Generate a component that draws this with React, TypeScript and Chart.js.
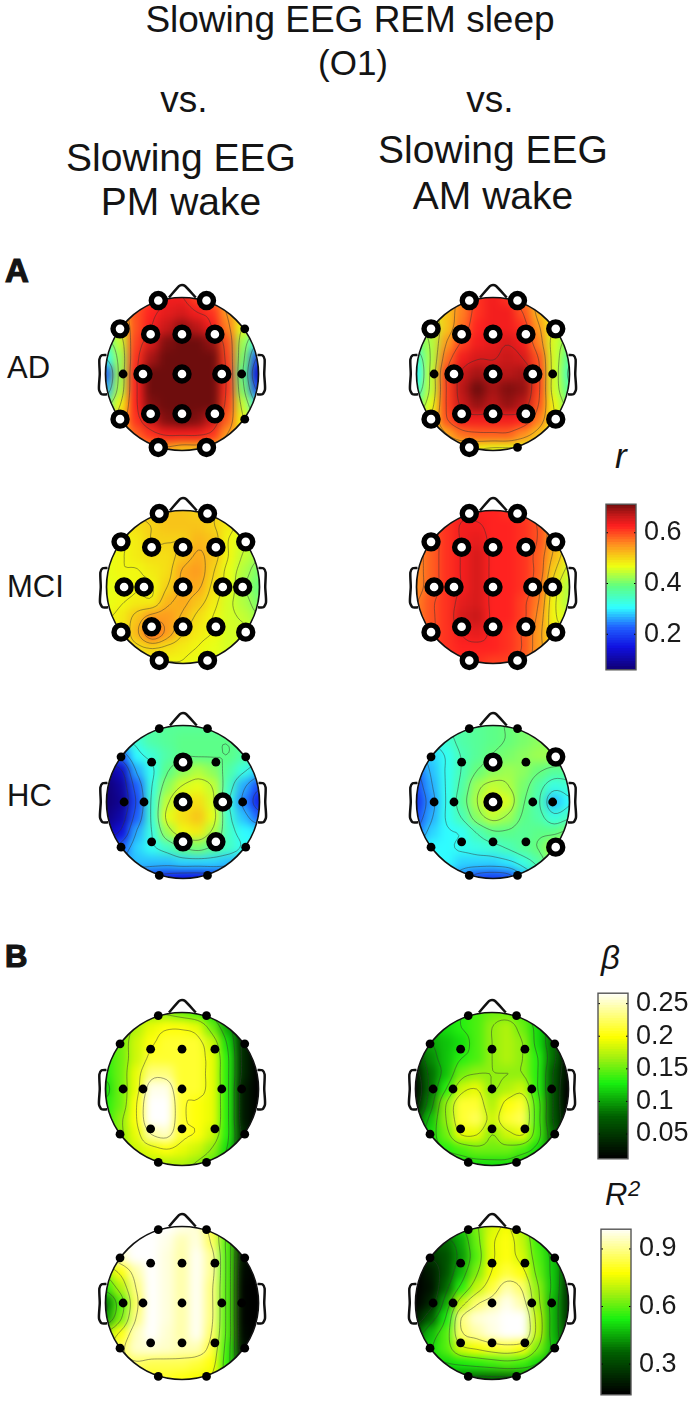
import React, { useEffect, useRef } from "react";
import { Chart, registerables } from "chart.js";
Chart.register(...registerables);

const FONT = "'Liberation Sans', Arial, sans-serif";
const RADIUS_PX = 76.5;
const CANVAS = 210;

const ELECTRODES: Record<string, [number, number]> = {
  Fp1: [-0.31, 0.96], Fp2: [0.32, 0.96],
  F7: [-0.81, 0.59], F3: [-0.41, 0.52], Fz: [0, 0.52], F4: [0.43, 0.52], F8: [0.82, 0.59],
  T3: [-0.77, 0], C3: [-0.51, 0], Cz: [0, 0], C4: [0.52, 0], T4: [0.78, 0],
  T5: [-0.81, -0.59], P3: [-0.41, -0.52], Pz: [0, -0.52], P4: [0.43, -0.52], T6: [0.82, -0.59],
  O1: [-0.31, -0.96], O2: [0.32, -0.96],
};
const ALL = Object.keys(ELECTRODES);
const except = (...n: string[]) => ALL.filter((e) => !n.includes(e));

const NOSE = [[-0.17, 1.0], [-0.04, 1.15], [0, 1.165], [0.04, 1.15], [0.18, 1.0]];
const EAR_L = [[-0.987, 0.25], [-1.05, 0.245], [-1.08, 0.19], [-1.075, 0], [-1.085, -0.2], [-1.05, -0.265], [-0.98, -0.265]];
const EAR_R = EAR_L.map(([x, y]) => [-x, y]);

const GRID_X = [-1, -0.8, -0.6, -0.4, -0.2, 0, 0.2, 0.4, 0.6, 0.8, 1];
const GRID_Y = [1, 0.8, 0.6, 0.4, 0.2, 0, -0.2, -0.4, -0.6, -0.8, -1];

const AD_PM = [
  [50, 50, 56, 60, 63, 63, 60, 56, 52, 50, 50],
  [48, 51, 59, 62, 64, 65, 63, 61, 54, 50, 45],
  [44, 48, 59, 63, 66, 69, 67, 63, 56, 46, 40],
  [36, 44, 60, 65, 70, 71, 71, 69, 59, 42, 30],
  [30, 42, 61, 68, 71, 71, 71, 71, 60, 40, 20],
  [22, 42, 62, 71, 71, 71, 71, 71, 61, 38, 14],
  [26, 43, 62, 71, 71, 71, 71, 71, 61, 40, 20],
  [36, 47, 62, 70, 71, 71, 71, 71, 60, 44, 30],
  [42, 51, 61, 66, 70, 71, 70, 66, 58, 47, 38],
  [46, 50, 58, 61, 63, 63, 63, 61, 54, 48, 44],
  [46, 48, 50, 53, 53, 51, 51, 50, 48, 46, 44],
];
const AD_AM = [
  [50, 50, 52, 55, 61, 63, 61, 56, 52, 50, 50],
  [46, 47, 51, 56, 61, 63, 63, 59, 52, 48, 46],
  [42, 44, 51, 57, 62, 63, 63, 61, 54, 47, 42],
  [38, 43, 54, 60, 63, 64, 65, 63, 56, 45, 40],
  [33, 43, 57, 63, 65, 65, 66, 65, 59, 45, 37],
  [30, 44, 60, 66, 68, 67, 67, 68, 60, 45, 35],
  [33, 44, 60, 67, 71, 68, 70, 69, 60, 45, 37],
  [38, 46, 60, 66, 69, 67, 69, 67, 59, 47, 40],
  [44, 49, 59, 63, 63, 63, 63, 62, 56, 48, 44],
  [46, 48, 53, 57, 58, 58, 58, 55, 51, 47, 46],
  [48, 48, 48, 48, 47, 46, 46, 46, 46, 46, 46],
];
const MCI_PM = [
  [48, 49, 50, 51, 51, 51, 50, 50, 48, 47, 46],
  [47, 48, 49, 50, 51, 51, 51, 50, 48, 46, 45],
  [46, 47, 48, 50, 50, 50, 52, 51, 47, 45, 43],
  [46, 47, 48, 49, 49, 51, 53, 51, 47, 44, 42],
  [46, 47, 47, 48, 49, 53, 54, 50, 46, 43, 40],
  [46, 46, 47, 47, 50, 53, 53, 49, 46, 42, 39],
  [46, 47, 48, 48, 52, 53, 51, 48, 45, 43, 40],
  [47, 48, 51, 54, 54, 52, 49, 47, 45, 44, 42],
  [47, 48, 52, 58, 54, 50, 48, 47, 45, 45, 44],
  [47, 48, 49, 50, 49, 48, 47, 46, 45, 45, 45],
  [47, 47, 47, 47, 47, 47, 46, 46, 46, 46, 46],
];
const MCI_AM = [
  [58, 60, 61, 62, 62, 62, 61, 60, 58, 55, 53],
  [56, 59, 61, 63, 63, 62, 62, 61, 59, 54, 50],
  [55, 58, 61, 63, 64, 62, 62, 61, 59, 53, 49],
  [55, 58, 61, 63, 65, 62, 62, 61, 58, 52, 47],
  [55, 58, 61, 63, 65, 62, 62, 61, 58, 50, 45],
  [55, 58, 61, 63, 65, 62, 62, 61, 57, 48, 43],
  [56, 59, 61, 64, 65, 62, 62, 60, 56, 47, 43],
  [56, 59, 61, 65, 66, 62, 62, 60, 55, 47, 45],
  [57, 59, 61, 63, 64, 62, 61, 59, 54, 48, 47],
  [58, 60, 61, 62, 62, 62, 61, 59, 54, 50, 49],
  [58, 59, 60, 61, 61, 60, 60, 58, 54, 51, 50],
];
const HC_PM = [
  [35, 35, 35, 36, 37, 37, 37, 37, 37, 36, 36],
  [30, 31, 33, 36, 37, 38, 38, 38, 38, 37, 37],
  [16, 22, 30, 33, 36, 38, 38, 38, 38, 36, 34],
  [8, 12, 26, 31, 38, 41, 43, 41, 36, 32, 28],
  [6, 9, 22, 32, 41, 45, 46, 44, 34, 26, 20],
  [6, 8, 20, 33, 44, 48, 49, 45, 32, 24, 16],
  [7, 10, 22, 33, 46, 49, 51, 46, 33, 27, 22],
  [10, 14, 26, 32, 42, 47, 48, 43, 34, 30, 29],
  [16, 22, 28, 31, 34, 38, 40, 37, 34, 31, 30],
  [22, 25, 27, 27, 27, 28, 28, 28, 27, 27, 27],
  [22, 21, 20, 18, 16, 15, 15, 16, 18, 20, 22],
];
const HC_AM = [
  [34, 34, 35, 36, 37, 38, 39, 40, 40, 40, 40],
  [30, 31, 33, 36, 37, 38, 39, 40, 41, 41, 42],
  [26, 28, 31, 35, 37, 39, 40, 41, 42, 42, 42],
  [22, 27, 31, 35, 39, 41, 42, 41, 39, 37, 37],
  [20, 26, 31, 36, 42, 44, 43, 40, 36, 32, 33],
  [18, 25, 31, 37, 43, 47, 45, 39, 35, 27, 30],
  [20, 26, 31, 35, 41, 44, 42, 38, 36, 32, 34],
  [23, 28, 30, 31, 35, 38, 38, 37, 38, 38, 40],
  [28, 30, 30, 31, 32, 33, 35, 37, 39, 43, 44],
  [30, 30, 30, 28, 28, 28, 29, 32, 36, 42, 44],
  [30, 28, 26, 24, 20, 19, 20, 26, 32, 38, 42],
];
const BETA_PM = [
  [14, 15, 16, 16, 16, 15, 14, 12, 8, 3, 1],
  [14, 15, 17, 19, 20, 20, 19, 15, 10, 4, 1],
  [14, 15, 18, 20, 21, 21, 21, 18, 12, 4, 1],
  [13, 15, 18, 21, 21, 21, 21, 19, 13, 4, 1],
  [13, 15, 19, 23, 23, 21, 21, 19, 13, 4, 1],
  [12, 15, 19, 26, 26, 21, 21, 19, 13, 3, 1],
  [13, 15, 20, 28, 28, 21, 20, 19, 13, 3, 1],
  [13, 16, 20, 28, 28, 21, 20, 19, 13, 3, 1],
  [14, 16, 19, 24, 25, 21, 20, 18, 13, 4, 1],
  [15, 16, 18, 19, 20, 19, 18, 16, 12, 4, 2],
  [15, 15, 16, 17, 17, 17, 16, 14, 10, 5, 3],
];
const BETA_AM = [
  [11, 11, 12, 13, 14, 15, 15, 14, 11, 8, 4],
  [10, 11, 12, 13, 14, 16, 17, 15, 12, 8, 4],
  [9, 10, 11, 12, 14, 16, 17, 16, 12, 8, 3],
  [5, 9, 11, 13, 14, 16, 17, 16, 13, 8, 2],
  [3, 8, 11, 15, 16, 16, 16, 16, 13, 7, 2],
  [2, 8, 13, 18, 19, 16, 17, 18, 13, 7, 1],
  [3, 9, 16, 21, 21, 17, 20, 21, 14, 7, 1],
  [6, 11, 16, 21, 22, 18, 21, 22, 14, 7, 2],
  [9, 12, 15, 19, 19, 16, 18, 19, 14, 8, 3],
  [11, 12, 13, 14, 15, 15, 15, 14, 12, 9, 5],
  [11, 11, 12, 12, 12, 12, 12, 11, 11, 10, 7],
];
const R2_PM = [
  [100, 100, 100, 100, 100, 98, 96, 82, 62, 30, 14],
  [100, 100, 100, 100, 98, 93, 97, 85, 58, 22, 14],
  [86, 95, 100, 100, 97, 92, 99, 90, 58, 18, 14],
  [66, 78, 92, 100, 97, 92, 99, 90, 58, 16, 14],
  [55, 68, 88, 100, 97, 92, 99, 88, 58, 15, 14],
  [38, 58, 85, 100, 97, 92, 99, 88, 58, 15, 14],
  [42, 62, 88, 100, 97, 92, 99, 88, 58, 15, 14],
  [65, 78, 94, 100, 96, 92, 99, 86, 58, 16, 14],
  [72, 85, 95, 96, 95, 93, 93, 82, 56, 18, 14],
  [76, 82, 86, 84, 84, 84, 82, 78, 55, 25, 16],
  [76, 78, 80, 80, 80, 78, 76, 74, 58, 35, 20],
];
const R2_AM = [
  [45, 45, 46, 50, 62, 72, 76, 68, 54, 44, 32],
  [32, 34, 36, 44, 60, 74, 78, 70, 56, 46, 32],
  [24, 27, 32, 42, 58, 74, 78, 72, 58, 48, 30],
  [14, 20, 32, 46, 62, 76, 82, 78, 60, 48, 28],
  [14, 18, 36, 54, 70, 82, 92, 86, 64, 48, 26],
  [14, 22, 44, 70, 86, 92, 98, 92, 66, 46, 26],
  [20, 34, 52, 88, 96, 98, 100, 100, 70, 46, 26],
  [34, 46, 58, 86, 92, 97, 100, 100, 70, 46, 28],
  [44, 50, 58, 72, 76, 80, 82, 78, 62, 48, 32],
  [46, 48, 50, 52, 54, 56, 58, 56, 50, 42, 34],
  [44, 44, 42, 38, 36, 36, 36, 38, 40, 40, 36],
];

type Stop = [number, number, number, number];
const JET: Stop[] = [
  [0, 16, 0, 120], [0.13, 16, 16, 224], [0.25, 32, 96, 255], [0.37, 48, 255, 255],
  [0.5, 96, 255, 128], [0.62, 240, 255, 16], [0.75, 255, 144, 32], [0.86, 255, 32, 32],
  [0.93, 192, 24, 24], [1, 105, 12, 12],
];
const KGYW: Stop[] = [
  [0, 0, 0, 0], [0.25, 0, 96, 0], [0.45, 24, 240, 16], [0.6, 160, 240, 16],
  [0.73, 255, 255, 0], [0.88, 255, 255, 144], [1, 255, 255, 255],
];
function colorAt(stops: Stop[], t: number) {
  const u = Math.max(0, Math.min(1, t));
  for (let i = 1; i < stops.length; i++) {
    if (u <= stops[i][0]) {
      const a = stops[i - 1], b = stops[i];
      const f = (u - a[0]) / (b[0] - a[0]);
      const m = (k: number) => Math.round(a[k] + (b[k] - a[k]) * f);
      return `rgb(${m(1)},${m(2)},${m(3)})`;
    }
  }
  return "rgb(255,255,255)";
}

// Catmull-Rom resampling of the read grid, used only to trace the thin contour lines.
function cr(p0: number, p1: number, p2: number, p3: number, t: number) {
  return 0.5 * (2 * p1 + (p2 - p0) * t + (2 * p0 - 5 * p1 + 4 * p2 - p3) * t * t + (3 * p1 - p0 - 3 * p2 + p3) * t * t * t);
}
function fine(grid: number[][], k: number) {
  const n = grid.length;
  const at = (r: number, c: number) => grid[Math.max(0, Math.min(n - 1, r))][Math.max(0, Math.min(n - 1, c))];
  const m = (n - 1) * k + 1;
  const out: number[][] = [];
  for (let i = 0; i < m; i++) {
    const row: number[] = [];
    const ri = Math.floor(i / k), tr = i / k - ri;
    for (let j = 0; j < m; j++) {
      const ci = Math.floor(j / k), tc = j / k - ci;
      const c = [-1, 0, 1, 2].map((d) => cr(at(ri + d, ci - 1), at(ri + d, ci), at(ri + d, ci + 1), at(ri + d, ci + 2), tc));
      row.push(cr(c[0], c[1], c[2], c[3], tr));
    }
    out.push(row);
  }
  return out;
}

const topoPlugin = {
  id: "topo",
  afterDatasetDraw(chart: any, args: any) {
    if (args.index !== chart.data.datasets.length - 1) return;
    const { ctx, canvas, scales } = chart;
    const grid: number[][] = chart.options.plugins.topo.grid;
    const px = (v: number) => scales.x.getPixelForValue(v);
    const py = (v: number) => scales.y.getPixelForValue(v);
    const off = document.createElement("canvas");
    off.width = canvas.width;
    off.height = canvas.height;
    off.getContext("2d")!.drawImage(canvas, 0, 0);
    const circle = () => {
      ctx.beginPath();
      ctx.arc(px(0), py(0), px(1) - px(0), 0, Math.PI * 2);
    };
    ctx.save();
    ctx.filter = "blur(5px)";
    ctx.drawImage(off, 0, 0);
    ctx.filter = "none";
    ctx.globalCompositeOperation = "destination-in";
    circle();
    ctx.fillStyle = "#000";
    ctx.fill();
    ctx.restore();

    // contour lines
    const k = 5;
    const f = fine(grid, k);
    const m = f.length;
    const step = 2 / (m - 1);
    let lo = Infinity, hi = -Infinity;
    grid.forEach((r, i) => r.forEach((v, j) => {
      if (GRID_X[j] ** 2 + GRID_Y[i] ** 2 <= 1.05) { lo = Math.min(lo, v); hi = Math.max(hi, v); }
    }));
    ctx.save();
    circle();
    ctx.clip();
    ctx.strokeStyle = "rgba(50,50,50,0.6)";
    ctx.lineWidth = 0.8;
    ctx.beginPath();
    for (let l = 1; l <= 6; l++) {
      const lev = lo + ((hi - lo) * l) / 7 + 0.013;
      for (let i = 0; i < m - 1; i++) {
        for (let j = 0; j < m - 1; j++) {
          const x0 = -1 + j * step, y0 = 1 - i * step;
          const c = [f[i][j], f[i][j + 1], f[i + 1][j + 1], f[i + 1][j]];
          const pts: [number, number][] = [];
          const cross = (a: number, b: number, ax: number, ay: number, bx: number, by: number) => {
            if ((a < lev) !== (b < lev)) {
              const t = (lev - a) / (b - a);
              pts.push([ax + (bx - ax) * t, ay + (by - ay) * t]);
            }
          };
          cross(c[0], c[1], x0, y0, x0 + step, y0);
          cross(c[1], c[2], x0 + step, y0, x0 + step, y0 - step);
          cross(c[2], c[3], x0 + step, y0 - step, x0, y0 - step);
          cross(c[3], c[0], x0, y0 - step, x0, y0);
          for (let q = 0; q + 1 < pts.length; q += 2) {
            ctx.moveTo(px(pts[q][0]), py(pts[q][1]));
            ctx.lineTo(px(pts[q + 1][0]), py(pts[q + 1][1]));
          }
        }
      }
    }
    ctx.stroke();
    ctx.restore();

    ctx.save();
    circle();
    ctx.strokeStyle = "#111";
    ctx.lineWidth = 1.7;
    ctx.stroke();
    ctx.restore();
  },
};

function Topo({ cx, cy, grid, rings, stops, vmin, vmax }: any) {
  const ref = useRef<HTMLCanvasElement>(null);
  useEffect(() => {
    const range = CANVAS / 2 / RADIUS_PX;
    const cell: any[] = [];
    const colors: string[] = [];
    grid.forEach((row: number[], i: number) =>
      row.forEach((v, j) => {
        cell.push({ x: GRID_X[j], y: GRID_Y[i] });
        colors.push(colorAt(stops, (v - vmin) / (vmax - vmin)));
      })
    );
    const pt = (n: string) => ({ x: ELECTRODES[n][0], y: ELECTRODES[n][1] });
    const line = (p: number[][]) => ({
      data: p.map(([x, y]) => ({ x, y })), showLine: true, pointRadius: 0,
      borderColor: "#111", borderWidth: 2.5, tension: 0.25, clip: false,
    });
    const c = new Chart(ref.current!, {
      type: "scatter",
      plugins: [topoPlugin],
      data: {
        datasets: [
          { data: rings.map(pt), pointRadius: 7, pointBorderWidth: 5.4, pointBorderColor: "#000", pointBackgroundColor: "#fff" },
          { data: ALL.filter((e) => !rings.includes(e)).map(pt), pointRadius: 4.4, pointBorderWidth: 0, pointBackgroundColor: "#000" },
          line(NOSE), line(EAR_L), line(EAR_R),
          { data: cell, pointStyle: "rect", pointRadius: 0.1 * RADIUS_PX * Math.SQRT2 + 0.7, pointBorderWidth: 0, pointBackgroundColor: colors },
        ] as any,
      },
      options: {
        responsive: false, animation: false, events: [],
        layout: { padding: 0, autoPadding: false },
        scales: {
          x: { type: "linear", display: false, min: -range, max: range },
          y: { type: "linear", display: false, min: -range, max: range },
        },
        plugins: { legend: { display: false }, tooltip: { enabled: false }, topo: { grid } } as any,
      },
    });
    return () => c.destroy();
  }, []);
  return <canvas ref={ref} width={CANVAS} height={CANVAS} style={{ position: "absolute", left: cx - CANVAS / 2, top: cy - CANVAS / 2 }} />;
}

const frame = {
  id: "frame",
  afterDraw(chart: any) {
    const { ctx, chartArea: a, scales } = chart;
    ctx.save();
    ctx.strokeStyle = "#000";
    ctx.lineWidth = 1;
    ctx.beginPath();
    scales.y.ticks.forEach((t: any) => {
      const y = scales.y.getPixelForValue(t.value);
      ctx.moveTo(a.left, y); ctx.lineTo(a.left + 2, y);
      ctx.moveTo(a.right, y); ctx.lineTo(a.right - 2, y);
    });
    ctx.stroke();
    ctx.strokeStyle = "#555";
    ctx.lineWidth = 1.4;
    ctx.strokeRect(a.left, a.top, a.right - a.left, a.bottom - a.top);
    ctx.restore();
  },
};

function ColorBar({ left, top, height, min, max, ticks, stops }: any) {
  const ref = useRef<HTMLCanvasElement>(null);
  const W = 94, BAR = 30, PAD = 20;
  useEffect(() => {
    const n = 64;
    const levels = Array.from({ length: n }, (_, i) => i);
    const c = new Chart(ref.current!, {
      type: "bar",
      plugins: [frame],
      data: {
        labels: [""],
        datasets: levels.map((i) => ({
          data: [[min + ((max - min) * i) / n, min + ((max - min) * (i + 1.3)) / n]],
          backgroundColor: colorAt(stops, (i + 0.5) / n),
          borderWidth: 0,
          grouped: false,
          barPercentage: 1,
          categoryPercentage: 1,
        })) as any,
      },
      options: {
        responsive: false, animation: false, events: [],
        layout: { padding: { top: PAD, bottom: PAD, left: 1, right: 0 } },
        scales: {
          x: { display: false },
          y: {
            position: "right", min, max,
            grid: { display: false, drawTicks: false }, border: { display: false },
            afterBuildTicks: (s: any) => { s.ticks = ticks.map((value: number) => ({ value })); },
            afterFit: (s: any) => { s.width = W - BAR - 1; },
            ticks: { padding: 8, autoSkip: false, color: "#1a1a1a", font: { family: FONT, size: 27 }, callback: (v: any) => String(v) },
          },
        },
        plugins: { legend: { display: false }, tooltip: { enabled: false } },
      },
    });
    return () => c.destroy();
  }, []);
  return <canvas ref={ref} width={W} height={height + 2 * PAD} style={{ position: "absolute", left: left - 1, top: top - PAD }} />;
}

function T({ x, base, size, children, align = "center", bold, italic, heavy }: any) {
  const top = base - size * 0.905;
  const st: any = {
    position: "absolute", top, fontFamily: FONT, fontSize: size, lineHeight: "normal",
    whiteSpace: "nowrap", color: "#141414", fontWeight: bold ? 700 : 400, fontStyle: italic ? "italic" : "normal",
  };
  if (heavy) st.WebkitTextStroke = "1.2px #141414";
  if (align === "center") { st.left = x; st.transform = "translateX(-50%)"; } else st.left = x;
  return <div style={st}>{children}</div>;
}

const R_RANGE = [6, 71.25];
const B_RANGE = [1.2, 26.6];
const R2_RANGE = [14, 100];

export default function App() {
  return (
    <div style={{ position: "relative", width: 692, height: 1401, overflow: "hidden", background: "#fff" }}>
      <style>{`html,body{margin:0;padding:0;background:#fff}`}</style>
      <T x={350} base={32} size={37}>Slowing EEG REM sleep</T>
      <T x={353} base={75} size={35}>(O1)</T>
      <T x={184} base={112} size={37}>vs.</T>
      <T x={490} base={112} size={37}>vs.</T>
      <T x={181} base={171} size={39}>Slowing EEG</T>
      <T x={181} base={215} size={39}>PM wake</T>
      <T x={493} base={163} size={39}>Slowing EEG</T>
      <T x={493} base={209} size={39}>AM wake</T>
      <T x={5} base={282} size={33} align="left" bold heavy>A</T>
      <T x={5} base={967} size={31} align="left" bold heavy>B</T>
      <T x={7} base={378} size={31} align="left">AD</T>
      <T x={7} base={597} size={31} align="left">MCI</T>
      <T x={7} base={806} size={31} align="left">HC</T>
      <T x={615} base={468} size={35} align="left" italic>r</T>
      <T x={601} base={969} size={33} align="left" italic>β</T>
      <T x={605} base={1205} size={31} align="left" italic>R</T>
      <T x={628} base={1196} size={22} align="left" italic>2</T>

      <Topo cx={182} cy={374} grid={AD_PM} rings={except("T3", "T4", "F8", "T6")} stops={JET} vmin={R_RANGE[0]} vmax={R_RANGE[1]} />
      <Topo cx={493} cy={374} grid={AD_AM} rings={except("T3", "T4", "O2")} stops={JET} vmin={R_RANGE[0]} vmax={R_RANGE[1]} />
      <Topo cx={182.5} cy={587} grid={MCI_PM} rings={ALL} stops={JET} vmin={R_RANGE[0]} vmax={R_RANGE[1]} />
      <Topo cx={493} cy={587} grid={MCI_AM} rings={ALL} stops={JET} vmin={R_RANGE[0]} vmax={R_RANGE[1]} />
      <Topo cx={182.5} cy={801.5} grid={HC_PM} rings={["Fz", "Cz", "C4", "Pz", "P4"]} stops={JET} vmin={R_RANGE[0]} vmax={R_RANGE[1]} />
      <Topo cx={493} cy={801.5} grid={HC_AM} rings={["Fz", "Cz", "F8", "T6"]} stops={JET} vmin={R_RANGE[0]} vmax={R_RANGE[1]} />
      <Topo cx={181.5} cy={1089} grid={BETA_PM} rings={[]} stops={KGYW} vmin={B_RANGE[0]} vmax={B_RANGE[1]} />
      <Topo cx={492} cy={1089} grid={BETA_AM} rings={[]} stops={KGYW} vmin={B_RANGE[0]} vmax={B_RANGE[1]} />
      <Topo cx={181.5} cy={1303} grid={R2_PM} rings={[]} stops={KGYW} vmin={R2_RANGE[0]} vmax={R2_RANGE[1]} />
      <Topo cx={492} cy={1303} grid={R2_AM} rings={[]} stops={KGYW} vmin={R2_RANGE[0]} vmax={R2_RANGE[1]} />

      <ColorBar left={606} top={500} height={174} min={0.06} max={0.7125} ticks={[0.2, 0.4, 0.6]} stops={JET} />
      <ColorBar left={598} top={989} height={174} min={0.012} max={0.266} ticks={[0.05, 0.1, 0.15, 0.2, 0.25]} stops={KGYW} />
      <ColorBar left={601} top={1225} height={174} min={0.14} max={1.003} ticks={[0.3, 0.6, 0.9]} stops={KGYW} />
    </div>
  );
}
